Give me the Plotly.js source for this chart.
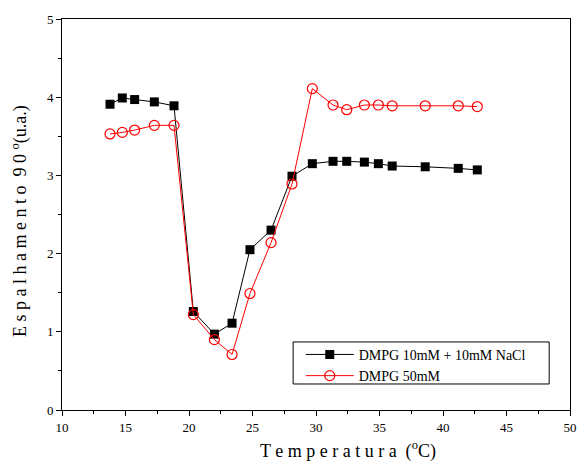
<!DOCTYPE html>
<html><head><meta charset="utf-8">
<script src="https://cdn.plot.ly/plotly-3.0.1.min.js"></script>
<style>html,body{margin:0;padding:0;background:#fff}</style>
</head><body>
<div id="chart" style="width:577px;height:462px"></div>
<script>
const tempNaCl = [13.78, 14.75, 15.72, 17.27, 18.82, 20.34, 22.0, 23.39, 24.8, 26.46, 28.11, 29.71, 31.34, 32.42, 33.81, 34.91, 36.0, 38.6, 41.2, 42.7];
const valNaCl  = [3.91, 3.99, 3.97, 3.94, 3.89, 1.26, 0.97, 1.11, 2.05, 2.30, 2.99, 3.15, 3.18, 3.18, 3.17, 3.15, 3.12, 3.11, 3.09, 3.07];
const temp50 = [13.78, 14.75, 15.72, 17.27, 18.82, 20.34, 22.0, 23.39, 24.8, 26.46, 28.11, 29.71, 31.34, 32.42, 33.81, 34.91, 36.0, 38.6, 41.2, 42.7];
const val50  = [3.53, 3.55, 3.58, 3.64, 3.64, 1.22, 0.90, 0.71, 1.49, 2.14, 2.89, 4.11, 3.90, 3.84, 3.90, 3.90, 3.89, 3.89, 3.89, 3.88];
const seriesNames = ['DMPG 10mM + 10mM NaCl', 'DMPG 50mM'];
const xTitle = 'T e m p e r a t u r a  (<sup>o</sup>C)';
const yTitle = 'E s p a l h a m e n t o  9 0 <sup>o</sup>(u.a.)';

const font = 'Liberation Serif, DejaVu Serif, serif';
const data = [
  {x: tempNaCl, y: valNaCl, name: seriesNames[0], mode: 'lines+markers', type: 'scatter',
   line: {color: '#000', width: 1}, marker: {symbol: 'square', size: 9, color: '#000'}},
  {x: temp50, y: val50, name: seriesNames[1], mode: 'lines+markers', type: 'scatter',
   line: {color: '#ff0000', width: 1}, marker: {symbol: 'circle-open', size: 10, color: '#ff0000', line: {width: 1.2}}}
];
const layout = {
  width: 577, height: 462,
  margin: {l: 62, r: 7, t: 19, b: 52},
  paper_bgcolor: '#fff', plot_bgcolor: '#fff',
  font: {family: font, color: '#000', size: 13},
  showlegend: true,
  legend: {x: 0.47, y: 0.182, xanchor: 'left', yanchor: 'top', borderwidth: 0,
           bgcolor: 'rgba(0,0,0,0)', font: {family: font, size: 14}, tracegroupgap: 0, itemwidth: 48},
  shapes: [
    {type: 'rect', xref: 'paper', yref: 'paper', x0: 0.455, x1: 0.959, y0: 0.0665, y1: 0.174,
     line: {color: '#000', width: 1}, fillcolor: 'rgba(0,0,0,0)', layer: 'above'}
  ],
  xaxis: {range: [10, 50], dtick: 5, showgrid: false, zeroline: false, showline: true, linecolor: '#000', linewidth: 1,
          mirror: true, ticks: 'outside', ticklen: 5, tickcolor: '#000',
          minor: {dtick: 2.5, ticks: 'outside', ticklen: 3, tickcolor: '#000'},
          tickfont: {family: font, size: 13}},
  yaxis: {range: [0, 5], dtick: 1, showgrid: false, zeroline: false, showline: true, linecolor: '#000', linewidth: 1,
          mirror: true, ticks: 'outside', ticklen: 5, tickcolor: '#000',
          minor: {dtick: 0.5, ticks: 'outside', ticklen: 3, tickcolor: '#000'},
          tickfont: {family: font, size: 13}},
  annotations: [
    {text: xTitle, xref: 'paper', yref: 'paper', x: 0.563, y: -0.102, xanchor: 'center', yanchor: 'middle',
     showarrow: false, font: {family: font, size: 18}},
    {text: yTitle, xref: 'paper', yref: 'paper', x: -0.083, y: 0.483, xanchor: 'center', yanchor: 'middle',
     textangle: -90, showarrow: false, font: {family: font, size: 18}}
  ]
};
Plotly.newPlot('chart', data, layout, {displayModeBar: false, staticPlot: true});
</script>
</body></html>
